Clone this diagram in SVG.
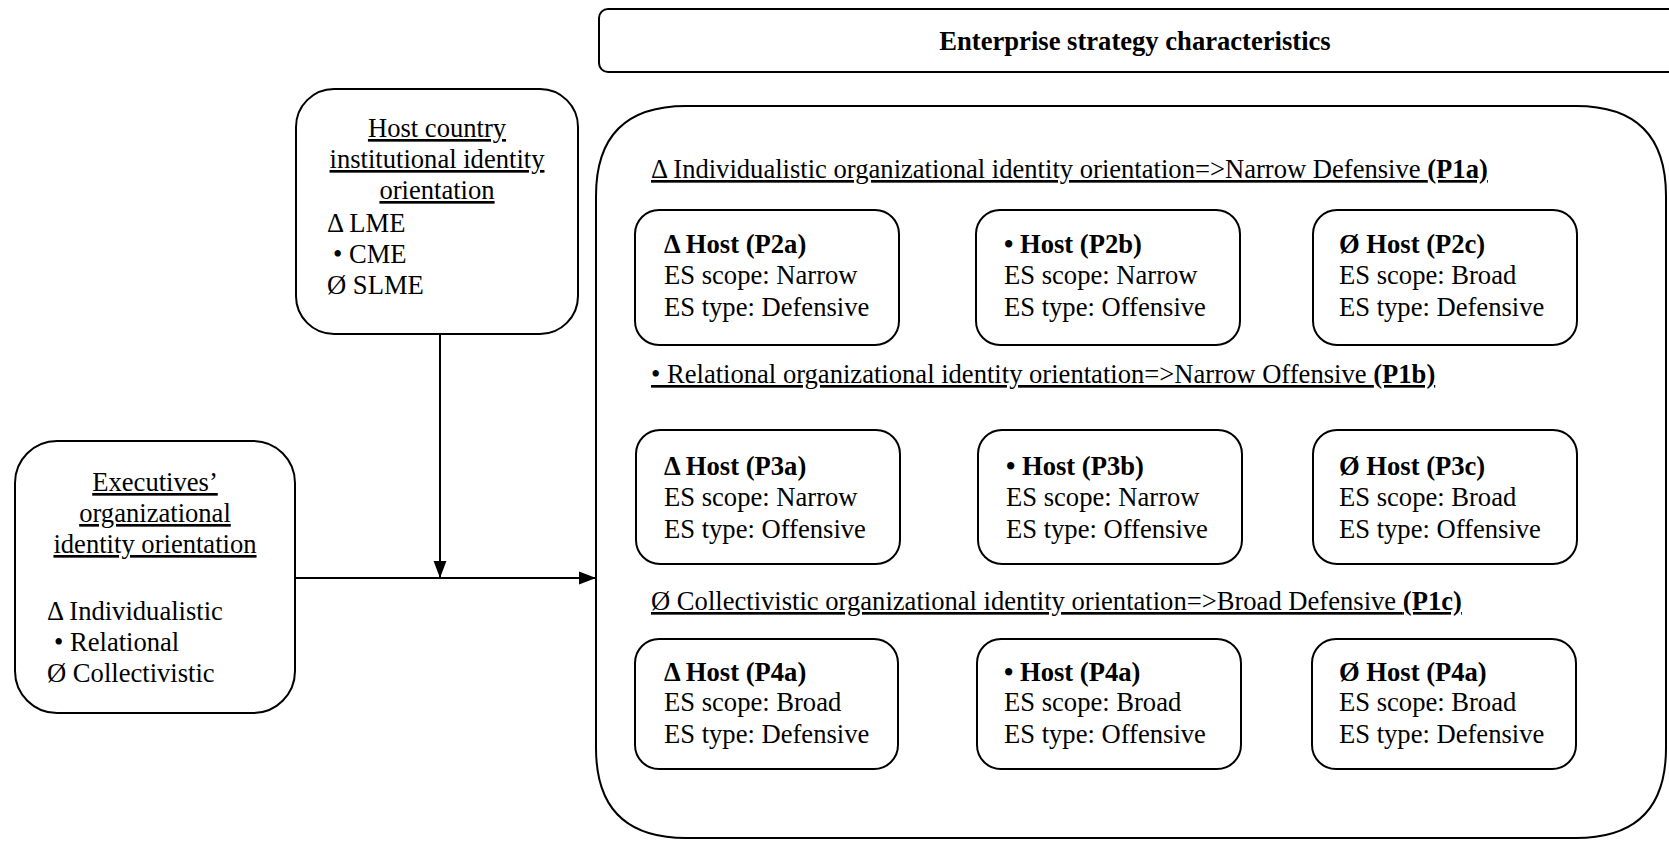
<svg xmlns="http://www.w3.org/2000/svg" width="1669" height="841" viewBox="0 0 1669 841">
<style>
  .box { fill: #ffffff; stroke: #000000; stroke-width: 2; }
  .t { font-family: "Liberation Serif", "Times New Roman", serif; font-size: 26.6px; fill: #000000; }
  .b { font-weight: bold; }
  .u { text-decoration: underline; }
  .c { text-anchor: middle; }
  .line { stroke: #000000; stroke-width: 2; fill: none; }
</style>
<defs>
  <marker id="arr" viewBox="0 0 10 10" refX="10" refY="5" markerWidth="8.5" markerHeight="8.5" orient="auto" markerUnits="strokeWidth">
    <path d="M0,1.2 L10,5 L0,8.8 z" fill="#000000"/>
  </marker>
</defs>
<rect width="1669" height="841" fill="#ffffff"/>

<g id="title-box">
  <rect class="box" x="599" y="9" width="1080" height="63" rx="9"/>
  <text class="t b c" x="1135" y="50" font-size="28">Enterprise strategy characteristics</text>
</g>

<g id="host-country">
  <rect class="box" x="296" y="89" width="282" height="245" rx="38"/>
  <text class="t u c" x="437" y="137">Host country</text>
  <text class="t u c" x="437" y="168">institutional identity</text>
  <text class="t u c" x="437" y="199">orientation</text>
  <text class="t" x="327" y="232">Δ LME</text>
  <text class="t" x="333" y="263">• CME</text>
  <text class="t" x="327" y="294">Ø SLME</text>
</g>

<g id="executives">
  <rect class="box" x="15" y="441" width="280" height="272" rx="42"/>
  <text class="t u c" x="155" y="491" font-size="27.5">Executives’</text>
  <text class="t u c" x="155" y="522" font-size="27.5">organizational</text>
  <text class="t u c" x="155" y="553" font-size="27.5">identity orientation</text>
  <text class="t" x="47" y="620" font-size="27.3">Δ Individualistic</text>
  <text class="t" x="54" y="651" font-size="27.3">• Relational</text>
  <text class="t" x="47" y="682" font-size="27.3">Ø Collectivistic</text>
</g>

<g id="strategy-container">
  <path class="box" d="M686,106 L1576,106 Q1666,106 1666,196 L1666,748 Q1666,838 1576,838 L686,838 Q596,838 596,748 L596,196 Q596,106 686,106 Z"/>
  <text class="t u" x="651" y="178" font-size="26.8">Δ Individualistic organizational identity orientation=&gt;Narrow Defensive <tspan class="b">(P1a)</tspan></text>
  <text class="t u" x="651" y="383" font-size="26.8">• Relational organizational identity orientation=&gt;Narrow Offensive <tspan class="b">(P1b)</tspan></text>
  <text class="t u" x="651" y="610" font-size="26.8">Ø Collectivistic organizational identity orientation=&gt;Broad Defensive <tspan class="b">(P1c)</tspan></text>
</g>

<g id="p2a">
  <rect class="box" x="635" y="210" width="264" height="135" rx="24"/>
  <text class="t b" x="664" y="253" font-size="27">Δ Host (P2a)</text>
  <text class="t" x="664" y="284">ES scope: Narrow</text>
  <text class="t" x="664" y="316">ES type: Defensive</text>
</g>
<g id="p2b">
  <rect class="box" x="976" y="210" width="264" height="135" rx="24"/>
  <text class="t b" x="1004" y="253" font-size="27">• Host (P2b)</text>
  <text class="t" x="1004" y="284">ES scope: Narrow</text>
  <text class="t" x="1004" y="316">ES type: Offensive</text>
</g>
<g id="p2c">
  <rect class="box" x="1313" y="210" width="264" height="135" rx="24"/>
  <text class="t b" x="1339" y="253" font-size="27">Ø Host (P2c)</text>
  <text class="t" x="1339" y="284">ES scope: Broad</text>
  <text class="t" x="1339" y="316">ES type: Defensive</text>
</g>

<g id="p3a">
  <rect class="box" x="636" y="430" width="264" height="134" rx="24"/>
  <text class="t b" x="664" y="475" font-size="27">Δ Host (P3a)</text>
  <text class="t" x="664" y="506">ES scope: Narrow</text>
  <text class="t" x="664" y="538">ES type: Offensive</text>
</g>
<g id="p3b">
  <rect class="box" x="978" y="430" width="264" height="134" rx="24"/>
  <text class="t b" x="1006" y="475" font-size="27">• Host (P3b)</text>
  <text class="t" x="1006" y="506">ES scope: Narrow</text>
  <text class="t" x="1006" y="538">ES type: Offensive</text>
</g>
<g id="p3c">
  <rect class="box" x="1313" y="430" width="264" height="134" rx="24"/>
  <text class="t b" x="1339" y="475" font-size="27">Ø Host (P3c)</text>
  <text class="t" x="1339" y="506">ES scope: Broad</text>
  <text class="t" x="1339" y="538">ES type: Offensive</text>
</g>

<g id="p4a-1">
  <rect class="box" x="635" y="639" width="263" height="130" rx="24"/>
  <text class="t b" x="664" y="681" font-size="27">Δ Host (P4a)</text>
  <text class="t" x="664" y="711">ES scope: Broad</text>
  <text class="t" x="664" y="743">ES type: Defensive</text>
</g>
<g id="p4a-2">
  <rect class="box" x="977" y="639" width="264" height="130" rx="24"/>
  <text class="t b" x="1004" y="681" font-size="27">• Host (P4a)</text>
  <text class="t" x="1004" y="711">ES scope: Broad</text>
  <text class="t" x="1004" y="743">ES type: Offensive</text>
</g>
<g id="p4a-3">
  <rect class="box" x="1312" y="639" width="264" height="130" rx="24"/>
  <text class="t b" x="1339" y="681" font-size="27">Ø Host (P4a)</text>
  <text class="t" x="1339" y="711">ES scope: Broad</text>
  <text class="t" x="1339" y="743">ES type: Defensive</text>
</g>

<g id="connectors">
  <line class="line" x1="295" y1="578" x2="596" y2="578" marker-end="url(#arr)"/>
  <line class="line" x1="440" y1="334" x2="440" y2="578" marker-end="url(#arr)"/>
</g>
</svg>
